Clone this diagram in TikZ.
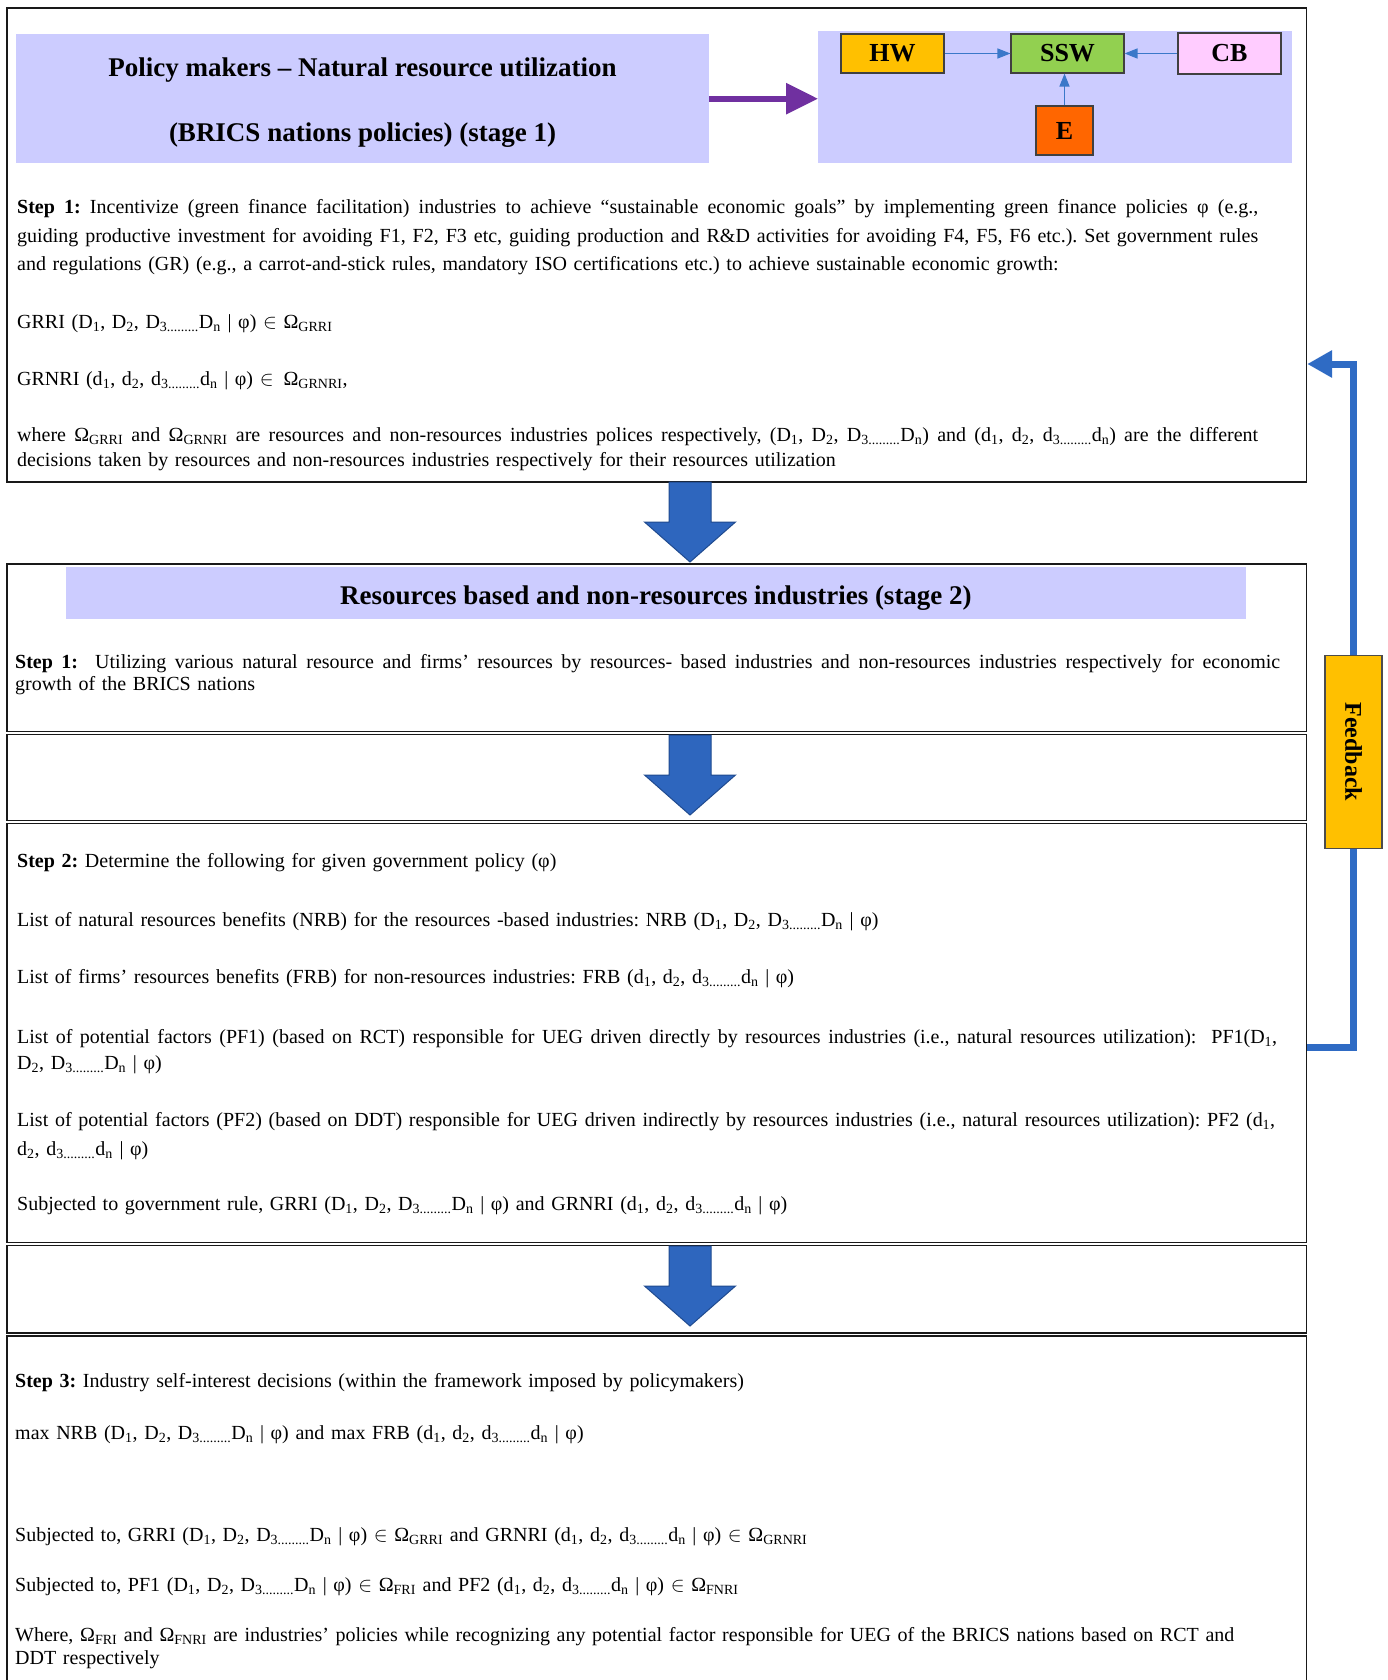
\documentclass[tikz,border=0pt]{standalone}
\usepackage{fontspec}
\setmainfont{Liberation Serif}
\usetikzlibrary{arrows.meta}
\frenchspacing

\definecolor{lav}{HTML}{CCCCFF}
\definecolor{purp}{HTML}{7030A0}
\definecolor{hwc}{HTML}{FFC000}
\definecolor{sswc}{HTML}{92D050}
\definecolor{cbc}{HTML}{FFCCFF}
\definecolor{ec}{HTML}{FF6600}
\definecolor{thinblue}{HTML}{3A78C9}
\definecolor{blockblue}{HTML}{2E66BE}
\definecolor{blockedge}{HTML}{1F4A8F}
\definecolor{fbblue}{HTML}{2F6BC4}

% subscripts and the recurring decision lists
\newcommand{\sbs}[1]{\textsubscript{#1}}
\newcommand{\memb}{\ensuremath{\in}}
\newcommand{\Dseq}{D\sbs{1}, D\sbs{2}, D\sbs{3.........}D\sbs{n} | φ}
\newcommand{\dseq}{d\sbs{1}, d\sbs{2}, d\sbs{3.........}d\sbs{n} | φ}
\newcommand{\bodyfont}[1]{\fontsize{20}{#1}\selectfont}
% a fully justified single line: interword spaces spread to fill the width
\newcommand{\jline}[2]{\leavevmode{\spaceskip=5pt plus 1fil\xspaceskip=5pt plus 1fil\relax\hbox to #1{#2}}}

\tikzset{
  panelframe/.style={draw=black!90, line width=1.6pt, fill=white, anchor=north west,
    inner sep=0pt, minimum width=1299.2pt},
  lavbox/.style={fill=lav, draw=none, anchor=north west, inner sep=0pt},
  tinybox/.style={draw=black!75, line width=1.1pt, inner sep=0pt,
    font=\fontsize{26}{30}\selectfont\bfseries},
  thinarrow/.style={draw=thinblue, line width=1.4pt, -{Triangle[length=13pt,width=10pt]}},
  purparrow/.style={draw=purp, line width=6pt, -{Triangle[length=32pt,width=30pt]}},
  fbline/.style={draw=fbblue, line width=7pt},
  fbbox/.style={fill=hwc, draw=black!70, line width=1.2pt, inner sep=0pt,
    minimum width=57pt, minimum height=192.5pt},
  txt/.style={anchor=base west, inner sep=0pt, align=left, text width=1275pt},
  ttl/.style={anchor=base, inner sep=0pt, font=\fontsize{27}{32}\selectfont\bfseries},
  blockdown/.pic={
    \filldraw[fill=blockblue, draw=blockedge, line width=1pt, line join=miter]
      (-21,0) -- (-21,40) -- (-45.5,40) -- (0,80) -- (45.5,40) -- (21,40) -- (21,0) -- cycle;
  },
}

\begin{document}
\begin{tikzpicture}[x=1pt, y=-1pt]
\useasboundingbox (0,0) rectangle (1387,1680);
\fill[white] (0,0) rectangle (1387,1680);

% ---------- frames ----------
\node[panelframe, minimum height=473.5pt] (box1) at (6.4,7.5) {};
\node[panelframe, minimum height=167.5pt] (boxA) at (6.4,563) {};
\node[panelframe, minimum height=86pt]    (boxB) at (6.4,733.5) {};
\node[panelframe, minimum height=419pt]   (boxC) at (6.4,822.5) {};
\node[panelframe, minimum height=87.5pt]  (boxD) at (6.4,1244.5) {};
\node[panelframe, minimum height=365pt]   (boxE) at (6.4,1335) {};

% ---------- stage 1 header ----------
\node[lavbox, minimum width=693pt, minimum height=129pt] (title1) at (16,34) {};
\node[ttl] (t1a) at (362.5,77) {Policy makers – Natural resource utilization};
\node[ttl] (t1b) at (362.5,142) {(BRICS nations policies) (stage 1)};

\node[lavbox, minimum width=474pt, minimum height=132pt] (panel) at (818,31) {};
\node[tinybox, fill=hwc,  minimum width=103pt, minimum height=39pt] (hw)  at (892.5,53.5) {HW};
\node[tinybox, fill=sswc, minimum width=113pt, minimum height=39pt] (ssw) at (1067.5,53.5) {SSW};
\node[tinybox, fill=cbc,  minimum width=103pt, minimum height=41pt] (cb)  at (1229.5,53.5) {CB};
\node[tinybox, fill=ec,   minimum width=57pt,  minimum height=49pt] (e)   at (1064.5,130.5) {E};
\draw[thinarrow] (hw.east) -- (ssw.west);
\draw[thinarrow] (cb.west) -- (ssw.east);
\draw[thinarrow] (e.north) -- (e.north |- ssw.south);
\draw[purparrow] (title1.east) -- (title1.east -| panel.west);

% ---------- stage 1 text ----------
\node[txt, font=\bodyfont{28.5}] (s1p) at (17,214) {%
\jline{1241pt}{\textbf{Step 1:} Incentivize (green finance facilitation) industries to achieve “sustainable economic goals” by implementing green finance policies φ (e.g.,}\\
\jline{1241pt}{guiding productive investment for avoiding F1, F2, F3 etc, guiding production and R\&D activities for avoiding F4, F5, F6 etc.). Set government rules}\\
and regulations (GR) (e.g., a carrot-and-stick rules, mandatory ISO certifications etc.) to achieve sustainable economic growth:};
\node[txt, font=\bodyfont{25}] (grri) at (17,328) {GRRI (\Dseq) \memb{} Ω\sbs{GRRI}};
\node[txt, font=\bodyfont{25}] (grnri) at (17,385) {GRNRI (\dseq) \memb{} \,Ω\sbs{GRNRI},};
\node[txt, font=\bodyfont{25.7}] (where1) at (17,441) {%
\jline{1241pt}{where Ω\sbs{GRRI} and Ω\sbs{GRNRI} are resources and non-resources industries polices respectively, (D\sbs{1}, D\sbs{2}, D\sbs{3.........}D\sbs{n}) and (d\sbs{1}, d\sbs{2}, d\sbs{3.........}d\sbs{n}) are the different}\\
decisions taken by resources and non-resources industries respectively for their resources utilization};

% ---------- stage 2 ----------
\node[lavbox, minimum width=1180pt, minimum height=52.4pt] (title2) at (66,566.6) {};
\node[ttl] (t2) at (656,604) {Resources based and non-resources industries (stage 2)};
\node[txt, font=\bodyfont{22.5}] (s2p1) at (15,668) {%
\jline{1265pt}{\textbf{Step 1:}\ \ Utilizing various natural resource and firms’ resources by resources- based industries and non-resources industries respectively for economic}\\
growth of the BRICS nations};

\node[txt, font=\bodyfont{25}] (s2a) at (17,867) {\textbf{Step 2:} Determine the following for given government policy (φ)};
\node[txt, font=\bodyfont{25}] (s2b) at (17,926) {List of natural resources benefits (NRB) for the resources -based industries: NRB (\Dseq)};
\node[txt, font=\bodyfont{25}] (s2c) at (17,983) {List of firms’ resources benefits (FRB) for non-resources industries: FRB (\dseq)};
\node[txt, font=\bodyfont{26.5}] (s2d) at (17,1043) {%
\jline{1260pt}{List of potential factors (PF1) (based on RCT) responsible for UEG driven directly by resources industries (i.e., natural resources utilization):\ \ PF1(D\sbs{1},}\\
D\sbs{2}, D\sbs{3.........}D\sbs{n} | φ)};
\node[txt, font=\bodyfont{29}] (s2e) at (17,1126) {%
\jline{1258pt}{List of potential factors (PF2) (based on DDT) responsible for UEG driven indirectly by resources industries (i.e., natural resources utilization): PF2 (d\sbs{1},}\\
d\sbs{2}, d\sbs{3.........}d\sbs{n} | φ)};
\node[txt, font=\bodyfont{25}] (s2f) at (17,1210) {Subjected to government rule, GRRI (\Dseq) and GRNRI (\dseq)};

% ---------- step 3 ----------
\node[txt, font=\bodyfont{25}] (s3a) at (15,1387) {\textbf{Step 3:} Industry self-interest decisions (within the framework imposed by policymakers)};
\node[txt, font=\bodyfont{25}] (s3b) at (15,1439) {max NRB (\Dseq) and max FRB (\dseq)};
\node[txt, font=\bodyfont{25}] (s3c) at (15,1541) {Subjected to, GRRI (\Dseq) \memb\ Ω\sbs{GRRI} and GRNRI (\dseq) \memb\ Ω\sbs{GRNRI}};
\node[txt, font=\bodyfont{25}] (s3d) at (15,1591) {Subjected to, PF1 (\Dseq) \memb\ Ω\sbs{FRI} and PF2 (\dseq) \memb\ Ω\sbs{FNRI}};
\node[txt, font=\bodyfont{22.4}] (s3e) at (15,1641.6) {Where, Ω\sbs{FRI} and Ω\sbs{FNRI} are industries’ policies while recognizing any potential factor responsible for UEG of the BRICS nations based on RCT and\\
DDT respectively};

% ---------- block arrows between the stages ----------
\pic (arr1) at (690,482) {blockdown};
\pic (arr2) at (690,735) {blockdown};
\pic (arr3) at (690,1246) {blockdown};

% ---------- feedback loop ----------
\coordinate (fbin) at (boxC.east |- 0,1047.5);
\coordinate (fbout) at (box1.east |- 0,364);
\node[fbbox] (fb) at (1353.5,752) {};
\draw[fbline] (fbin) -| (fb.south);
\draw[fbline, -{Triangle[length=25pt,width=26pt]}] (fb.north) |- (fbout);
\node[rotate=-90, inner sep=0pt, font=\fontsize{24}{28}\selectfont\bfseries] (fblabel) at (fb.center) {Feedback};
\end{tikzpicture}
\end{document}
